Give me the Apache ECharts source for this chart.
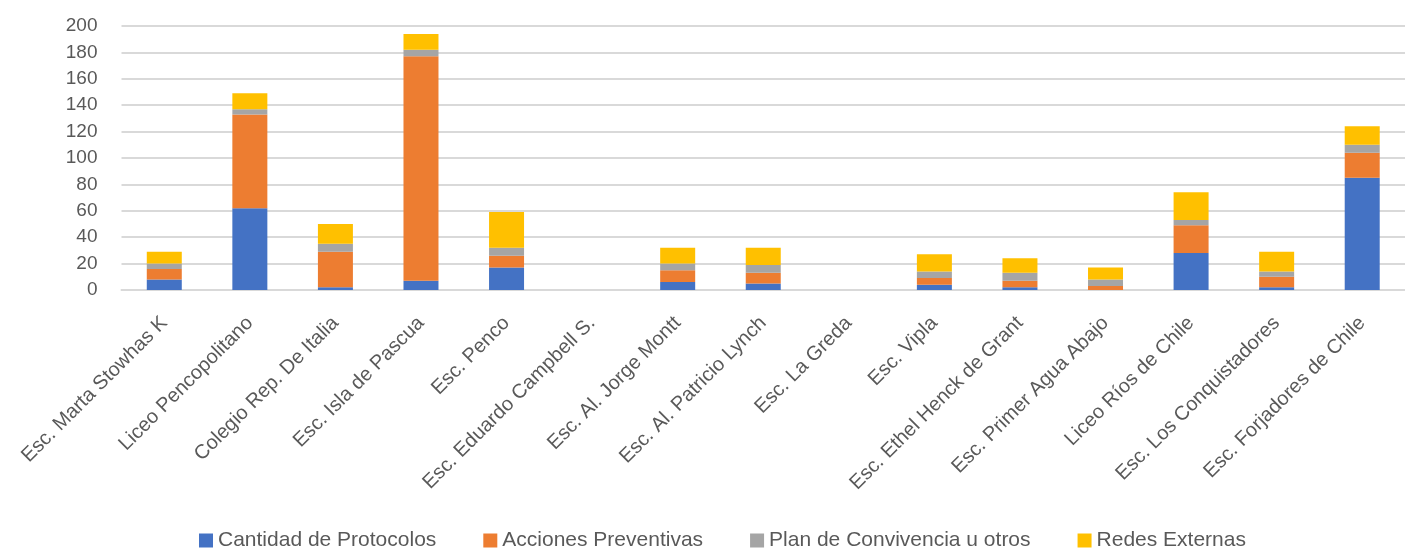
<!DOCTYPE html>
<html>
<head>
<meta charset="utf-8">
<script src="https://cdn.jsdelivr.net/npm/echarts@6/dist/echarts.min.js"></script>
<style>html,body{margin:0;padding:0;background:#fff;}#c{width:1405px;height:551px;}</style>
</head>
<body>
<div id="c"></div>
<script>
const categories = ['Esc. Marta Stowhas K','Liceo Pencopolitano','Colegio Rep. De Italia','Esc. Isla de Pascua','Esc. Penco','Esc. Eduardo Campbell S.','Esc. Al. Jorge Montt','Esc. Al. Patricio Lynch','Esc. La Greda','Esc. Vipla','Esc. Ethel Henck de Grant','Esc. Primer Agua Abajo','Liceo Ríos de Chile','Esc. Los Conquistadores','Esc. Forjadores de Chile'];
const protocolos  = [8, 62, 2, 7, 17, 0, 6, 5, 0, 4, 2, 0, 28, 2, 85];
const preventivas = [8, 71, 27, 170, 9, 0, 9, 8, 0, 5, 5, 3, 21, 8, 19];
const convivencia = [4, 4, 6, 5, 6, 0, 5, 6, 0, 5, 6, 5, 4, 4, 6];
const redes       = [9, 12, 15, 12, 27, 0, 12, 13, 0, 13, 11, 9, 21, 15, 14];
const seriesNames = ['Cantidad de Protocolos','Acciones Preventivas','Plan de Convivencia u otros','Redes Externas'];
const yTicks = {min: 0, max: 200, interval: 20};

const colors = ['#4472C4','#ED7D31','#A5A5A5','#FFC000'];
const font = 'Liberation Sans';
const chart = echarts.init(document.getElementById('c'));
const mk = (name, data, i) => ({
  name, type: 'bar', stack: 'total', data, barWidth: 35,
  itemStyle: {color: colors[i]}
});
chart.setOption({
  animation: false,
  grid: {left: 121.5, top: 26, width: 1288, height: 264, containLabel: false},
  legend: {
    left: 194, top: 525, icon: 'rect', itemWidth: 14, itemHeight: 14, itemGap: 47,
    textStyle: {fontFamily: font, fontSize: 21, color: '#595959'},
    data: seriesNames
  },
  xAxis: {
    type: 'category', data: categories,
    axisLine: {show: true, lineStyle: {color: '#D9D9D9', width: 2}},
    axisTick: {show: false},
    axisLabel: {rotate: 45, interval: 0, margin: 30, fontFamily: font, fontSize: 20, color: '#595959'}
  },
  yAxis: {
    type: 'value', min: yTicks.min, max: yTicks.max, interval: yTicks.interval,
    axisLine: {show: false}, axisTick: {show: false},
    splitLine: {lineStyle: {color: '#D9D9D9', width: 2}},
    axisLabel: {margin: 24, fontFamily: font, fontSize: 19, color: '#595959'}
  },
  series: [mk(seriesNames[0], protocolos, 0), mk(seriesNames[1], preventivas, 1), mk(seriesNames[2], convivencia, 2), mk(seriesNames[3], redes, 3)]
});
</script>
</body>
</html>
